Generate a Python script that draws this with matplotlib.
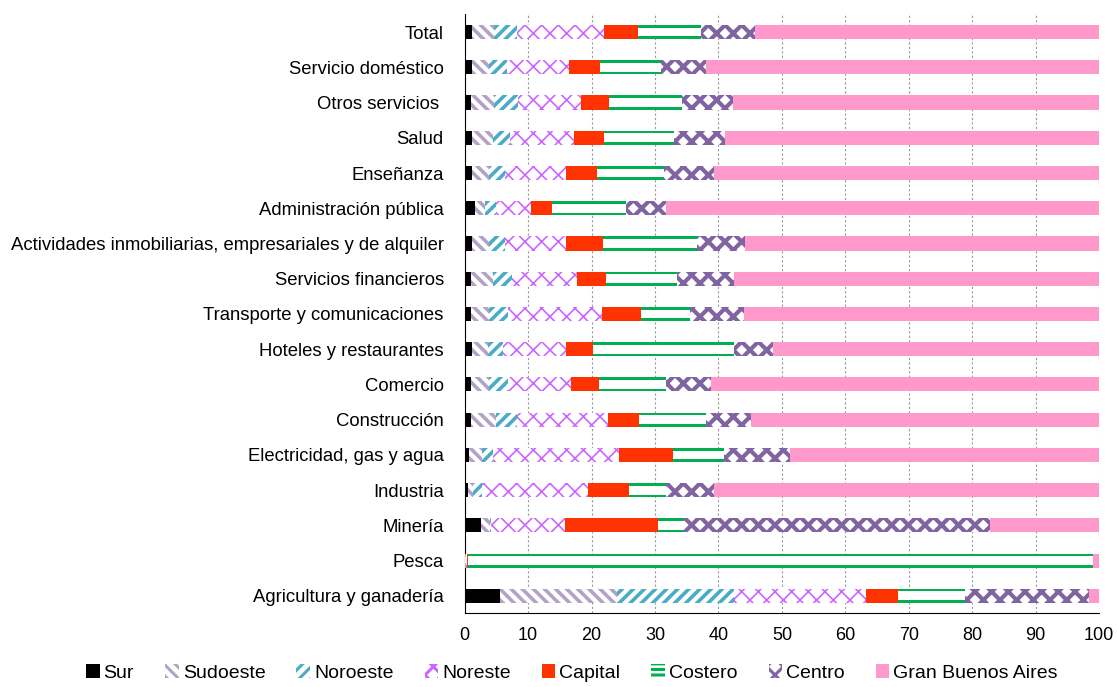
import matplotlib
matplotlib.use("Agg")
import matplotlib.pyplot as plt
import matplotlib.patches as mpatches
import numpy as np

plt.rcParams['font.family'] = ['Liberation Sans', 'DejaVu Sans']
plt.rcParams['hatch.linewidth'] = 2.2

# categorias (de arriba hacia abajo)
categorias = ["Total", "Servicio doméstico", "Otros servicios ", "Salud", "Enseñanza",
              "Administración pública",
              "Actividades inmobiliarias, empresariales y de alquiler",
              "Servicios financieros", "Transporte y comunicaciones",
              "Hoteles y restaurantes", "Comercio", "Construcción",
              "Electricidad, gas y agua", "Industria", "Minería", "Pesca",
              "Agricultura y ganadería"]

# participacion por region (%)
sur      = [1.2, 1.1, 1.0, 1.1, 1.1, 1.6, 1.1, 1.0, 1.0, 1.1, 1.0, 1.0, 0.7, 0.5, 2.6, 0.1, 5.5]
sudoeste = [3.5, 2.8, 3.7, 3.3, 2.8, 1.6, 2.8, 3.4, 2.9, 2.5, 2.9, 4.0, 2.1, 0.8, 1.4, 0.1, 18.5]
noroeste = [3.5, 2.7, 3.7, 2.7, 2.4, 1.8, 2.4, 3.0, 2.9, 2.4, 2.9, 3.2, 1.6, 1.5, 0.1, 0.05, 18.4]
noreste  = [13.7, 9.8, 9.9, 10.1, 9.6, 5.5, 9.7, 10.3, 14.8, 9.9, 9.9, 14.4, 20.0, 16.6, 11.7, 0.1, 20.9]
capital  = [5.4, 4.9, 4.4, 4.7, 4.9, 3.2, 5.8, 4.5, 6.2, 4.4, 4.4, 4.8, 8.4, 6.5, 14.6, 0.15, 5.0]
costero  = [9.9, 9.6, 11.5, 11.1, 10.6, 11.7, 14.8, 11.2, 7.7, 22.1, 10.6, 10.7, 8.1, 5.8, 4.2, 98.5, 10.6]
centro   = [8.5, 7.2, 8.1, 8.1, 7.9, 6.3, 7.6, 9.0, 8.5, 6.2, 7.2, 7.1, 10.4, 7.6, 48.2, 0.05, 19.5]
gba      = [54.3, 61.9, 57.7, 58.9, 60.7, 68.3, 55.8, 57.6, 56.0, 51.4, 61.1, 54.8, 48.7, 60.7, 17.2, 0.95, 1.6]

regiones = ["Sur", "Sudoeste", "Noroeste", "Noreste", "Capital", "Costero", "Centro",
            "Gran Buenos Aires"]
series = [sur, sudoeste, noroeste, noreste, capital, costero, centro, gba]

# estilo de cada serie: (relleno, color de trama, trama, grosor trama)
estilos = [
    ("black", "black", None, 2.2),
    ("white", "#b3a2c7", "\\" * 3, 2.6),
    ("white", "#4bacc6", "/" * 3, 2.6),
    ("white", "#cc66ff", "xx", 1.2),
    ("#ff3300", "#ff3300", None, 2.2),
    ("#00b050", "#00b050", None, 2.2),   # costero: doble linea (se vacia abajo)
    ("white", "#8064a2", "xx", 3.0),
    ("#ff99cc", "#ff99cc", None, 2.2),
]

fig = plt.figure(figsize=(11.17, 6.87), dpi=100)
ax = fig.add_axes([0.416, 0.107, 0.568, 0.872])

y = np.arange(len(categorias))
izq = np.zeros(len(categorias))
for nombre, valores, (fc, ec, hatch, hlw) in zip(regiones, series, estilos):
    barras = ax.barh(y, valores, left=izq, height=0.4, color=fc, edgecolor=ec,
                     hatch=hatch, linewidth=0, label=nombre, zorder=3)
    for b in barras:
        if hasattr(b, "set_hatch_linewidth"):
            b.set_hatch_linewidth(hlw)
    if nombre == "Costero":
        # centro blanco -> quedan dos lineas verdes
        ax.barh(y, valores, left=izq, height=0.25, color="white",
                linewidth=0, zorder=4)
    izq = izq + np.array(valores)

ax.set_yticks(y)
ax.set_yticklabels(categorias, fontsize=13.3)
ax.set_ylim(len(categorias) - 0.5, -0.5)
ax.set_xlim(0, 100)
ax.set_xticks(np.arange(0, 101, 10))
ax.tick_params(axis='x', length=0, labelsize=13, pad=10)
ax.tick_params(axis='y', length=0, pad=15)

ax.grid(axis='x', color='#999999', linestyle=(0, (2, 2)), linewidth=0.8, zorder=0)
ax.spines['top'].set_visible(False)
ax.spines['right'].set_visible(False)
ax.spines['left'].set_color('black')
ax.spines['bottom'].set_color('black')

handles, labels = ax.get_legend_handles_labels()
i = labels.index("Costero")
handles[i] = mpatches.Patch(facecolor="white", edgecolor="#00b050", hatch="---",
                            linewidth=0)
fig.legend(handles, labels, loc='lower center', bbox_to_anchor=(0.512, -0.012),
           ncol=8, frameon=False, fontsize=14, handlelength=0.7, handleheight=0.7,
           handletextpad=0.2, columnspacing=1.6, borderpad=0.2)

fig.savefig("out.png", dpi=100)
